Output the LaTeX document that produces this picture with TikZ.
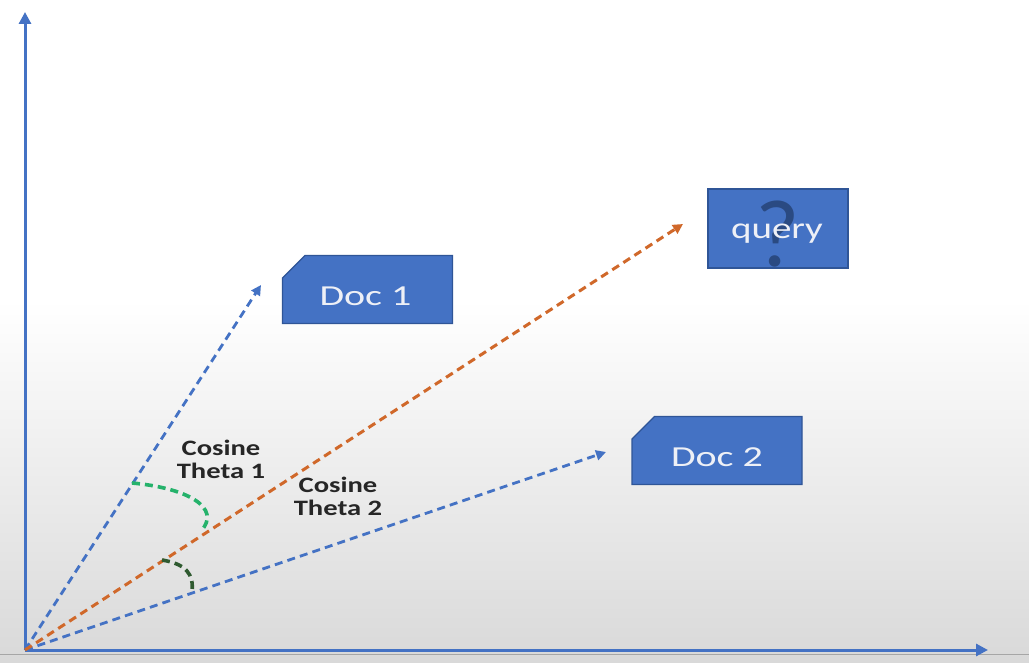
\documentclass[tikz,border=0pt]{standalone}
\usepackage{graphicx}
\usepackage{fontspec}
\setmainfont{Carlito}
\usetikzlibrary{arrows.meta,shapes.misc}
\definecolor{axisblue}{HTML}{4472C4}
\definecolor{boxblue}{HTML}{4472C4}
\definecolor{boxedge}{HTML}{2F5597}
\definecolor{qorange}{HTML}{D0682A}
\definecolor{arcgreen}{HTML}{25B26B}
\definecolor{arcdark}{HTML}{2F5A30}
\definecolor{qmark}{HTML}{2A4A82}
\definecolor{txtwhite}{HTML}{EEF0F6}
\newcommand{\wide}[1]{\scalebox{1.3}[1]{#1}}
\newcommand{\widedoc}[1]{\scalebox{1.38}[1]{#1}}
\begin{document}
\begin{tikzpicture}[x=0.5pt,y=-0.5pt,
  axis/.style={draw=axisblue,line width=1.5pt,-{Triangle[length=6pt,width=6pt]}},
  vecblue/.style={draw=axisblue,line width=1.4pt,dash pattern=on 4pt off 2.6pt,-{Triangle[length=5pt,width=5pt]}},
  vecorange/.style={draw=qorange,line width=1.5pt,dash pattern=on 4pt off 2.6pt,-{Triangle[length=5pt,width=5pt]}},
  docbox/.style={chamfered rectangle,chamfered rectangle corners=north west,
    chamfered rectangle xsep=16.5pt,chamfered rectangle ysep=6.5pt,
    fill=boxblue,draw=boxedge,line width=0.6pt,minimum width=85pt,minimum height=34pt,
    inner sep=0pt,font=\fontsize{14.5}{16}\selectfont},
  doctext/.style={text=txtwhite,font=\fontsize{14.5}{16}\selectfont,inner sep=0pt},
  qbox/.style={rectangle,fill=boxblue,draw=boxedge,line width=0.6pt,minimum width=70pt,
    minimum height=39.5pt,inner sep=0pt},
  lbl/.style={align=center,font=\bfseries\fontsize{11}{11.5}\selectfont,text=black!85},
  arcA/.style={draw=arcgreen,line width=1.8pt,dash pattern=on 4pt off 2.5pt},
  arcB/.style={draw=arcdark,line width=1.8pt,dash pattern=on 4pt off 2.5pt}]
% background
\fill[white] (0,0) rectangle (1029,300);
\shade[top color=white,bottom color=black!15] (0,300) rectangle (1029,663);
\useasboundingbox (0,0) rectangle (1029,663);
\draw[black!35,line width=0.5pt] (0,654) -- (1029,654);
% coordinates
\coordinate (o) at (25,650);
\coordinate (ytip) at (25,12);
\coordinate (xtip) at (988,650);
\coordinate (d1) at (261,285);
\coordinate (qt) at (683,224);
\coordinate (d2) at (606,452);
% boxes
\node[docbox] (doc1) at (367.5,289.5) {\phantom{\widedoc{Doc 1}}};
\node[doctext] (doc1t) at ([xshift=-1pt,yshift=-3.5pt]doc1.center) {\widedoc{Doc 1}};
\node[docbox] (doc2) at (717,450.5) {\phantom{\widedoc{Doc 2}}};
\node[doctext] (doc2t) at ([yshift=-3.5pt]doc2.center) {\widedoc{Doc 2}};
\node[qbox] (query) at (778,228.5) {};
\node[text=qmark,font=\fontsize{48}{48}\selectfont] (qm) at ([yshift=-3pt]query.center) {?};
\node[text=txtwhite,font=\fontsize{15}{16}\selectfont] (qtext) at ([xshift=-0.5pt,yshift=-2.5pt]query.center) {\wide{query}};
% axes
\draw[axis] (o) -- (ytip);
\draw[axis] (o) -- (xtip);
% vectors
\draw[vecblue] (o) -- (d1);
\draw[vecblue] (o) -- (d2);
\draw[vecorange] (o) -- (qt);
% angle arcs
\coordinate (a1s) at (132,483);
\coordinate (a1e) at (201,531);
\draw[arcA] (a1s) .. controls (188,488) and (222,508) .. (a1e);
\coordinate (a2s) at (162,560);
\coordinate (a2e) at (192,592);
\draw[arcB] (a2s) .. controls (186,564) and (194,574) .. (a2e);
% labels
\node[lbl] (t1) at (221,459) {\wide{Cosine}\\\wide{Theta 1}};
\node[lbl] (t2) at (338,496) {\wide{Cosine}\\\wide{Theta 2}};
\end{tikzpicture}
\end{document}
